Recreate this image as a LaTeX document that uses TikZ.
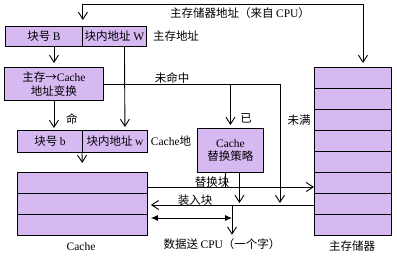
\documentclass[tikz,border=0pt]{standalone}
\usepackage{fontspec}
\setmainfont{Liberation Serif}
\newfontfamily\cjk{Noto Sans CJK SC}
\usetikzlibrary{arrows.meta,calc}
\definecolor{lav}{HTML}{D7B9F2}

\begin{document}
\begin{tikzpicture}[x=1pt,y=-1pt,>={Straight Barb[length=7pt,width=9pt]},line width=.9pt,every node/.style={font=\cjk\fontsize{11.5}{13.5}\selectfont},cell/.style={draw,fill=lav,anchor=north west,inner sep=0pt,minimum height=20pt},dbl/.style={{Latex[length=7pt,width=6pt]}-{Latex[length=7pt,width=6pt]}}]
\path[use as bounding box] (0,0) rectangle (397,255);

% address fields
\node[cell,minimum width=77pt] (blkB) at (5,26) {块号 \textrm{B}};
\node[cell,minimum width=64pt] (offW) at (82,26) {块内地址 \textrm{W}};
\node (mainaddr) at (176,36) {主存地址};
\node[cell,minimum width=99pt,minimum height=33pt,align=center] (conv) at (4,67) {主存→\textrm{Cache}\\地址变换};
\node[cell,minimum width=65pt,minimum height=22pt] (cblk) at (17,130) {块号 \textrm{b}};
\node[cell,minimum width=65pt,minimum height=22pt] (cw) at (82,130) {块内地址 \textrm{w}};
\node (cacheaddr) at (171,141) {\textrm{Cache}地};
\node[cell,minimum width=66pt,minimum height=44pt,align=center] (repl) at (197,128) {\textrm{Cache}\\替换策略};

% stores
\node[cell,minimum width=130pt,minimum height=63pt] (cache) at (17,172) {};
\foreach \k in {1,2} \draw ($(cache.north west)+(0,21*\k)$) -- ($(cache.north east)+(0,21*\k)$);
\node (cachelbl) at (81,247) {\textrm{Cache}};
\node[cell,minimum width=77pt,minimum height=168pt] (mem) at (314,67) {};
\foreach \k in {1,...,7} \draw ($(mem.north west)+(0,21*\k)$) -- ($(mem.north east)+(0,21*\k)$);
\node (memlbl) at (352,246) {主存储器};

\coordinate (cpu) at (363,4);
\coordinate (rep) at (0,187);
\coordinate (load) at (0,205);
\coordinate (dat) at (0,218);
\coordinate (nf) at (280,205);
\coordinate (dtop) at (232,205);

\draw[<->,shorten <=6pt,shorten >=4pt] (blkB.north east) |- (cpu) -- (cpu |- mem.north);
\node (cpulbl) at (240,13) {主存储器地址（来自 \textrm{CPU}）};
\draw[->,shorten >=4pt] (blkB.south -| conv.north) -- (conv.north);
\draw[->,shorten >=3pt] ($(offW.south)+(10,0)$) -- ($(cw.north)+(10,0)$);
\draw[->,shorten >=2pt] (conv.south) -- (conv.south |- cblk.north);
\node (hit) at (72,119) {命};
\draw[->,shorten >=9pt] (cw.south west) -- (cache.north);

% miss path
\draw[->,shorten >=2pt] (conv.east) -| (nf);
\draw[->,shorten >=3pt] (repl.north |- conv.east) -- (repl.north);
\node (miss) at (172,78) {未命中};
\node (full) at (246,118) {已};
\node (notfull) at (299,120) {未满};

% block transfer
\draw[->] (cache.east |- rep) -- (mem.west |- rep);
\node (replbl) at (212,182) {替换块};
\draw ($(repl.south)+(-5,0)$) -- ($(repl.south |- rep)+(-5,0)$);
\draw[->,shorten >=2pt] ($(repl.south)+(9,0)$) -- ($(repl.south |- load)+(9,0)$);
\draw[->,shorten >=3pt] (mem.west |- load) -- (cache.east |- load);
\node (loadlbl) at (195,200) {装入块};
\node (cpuout) at (222,244) {数据送 \textrm{CPU}（一个字）};
\draw[->] (dtop) -- (dtop |- cpuout.north);
\draw[dbl] ($(cache.east |- dat)+(3,0)$) -- (dtop |- dat);

\end{tikzpicture}
\end{document}
